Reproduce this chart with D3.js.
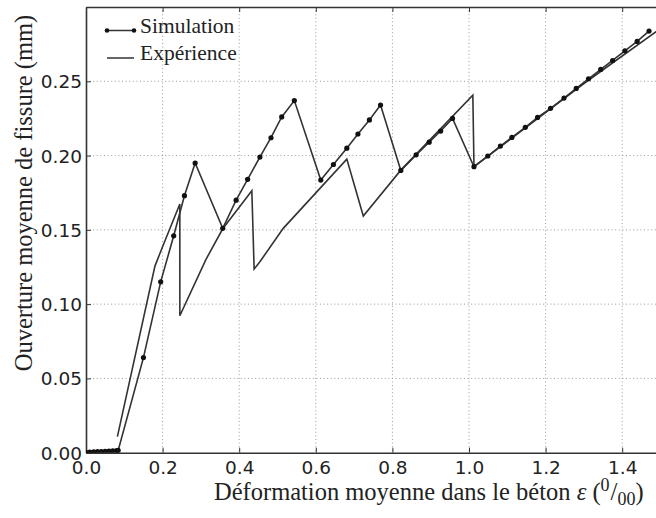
<!DOCTYPE html>
<html><head><meta charset="utf-8">
<script src="https://cdn.jsdelivr.net/npm/d3@7"></script>
<style>body{margin:0;background:#fff}svg{display:block}</style>
</head><body>
<svg id="c" width="656" height="518"></svg>
<script>
// ---- data ----
const simX = [0, 0.01, 0.02, 0.03, 0.04, 0.05, 0.06, 0.07, 0.08, 0.084, 0.150, 0.195, 0.229, 0.257, 0.285, 0.357, 0.392, 0.422, 0.454, 0.483, 0.511, 0.544, 0.613, 0.646, 0.681, 0.710, 0.740, 0.769, 0.822, 0.862, 0.896, 0.926, 0.957, 1.013, 1.049, 1.082, 1.112, 1.147, 1.179, 1.213, 1.248, 1.280, 1.312, 1.344, 1.375, 1.407, 1.439, 1.470];
const simY = [0.0002, 0.0004, 0.0005, 0.0007, 0.0008, 0.0009, 0.0010, 0.0012, 0.0014, 0.0015, 0.064, 0.115, 0.146, 0.173, 0.195, 0.151, 0.170, 0.184, 0.199, 0.212, 0.226, 0.237, 0.1835, 0.194, 0.205, 0.2145, 0.224, 0.234, 0.190, 0.2005, 0.209, 0.2165, 0.225, 0.1925, 0.1997, 0.2064, 0.2122, 0.219, 0.2257, 0.2318, 0.2387, 0.2452, 0.2517, 0.258, 0.264, 0.2705, 0.2768, 0.2838];
const expX = [0.082, 0.180, 0.202, 0.245, 0.245, 0.313, 0.357, 0.433, 0.439, 0.454, 0.515, 0.681, 0.724, 0.822, 1.010, 1.013, 1.30, 1.50];
const expY = [0.0108, 0.1256, 0.140, 0.1674, 0.0922, 0.130, 0.1507, 0.1763, 0.1236, 0.1285, 0.151, 0.1976, 0.1593, 0.1902, 0.2407, 0.1925, 0.2485, 0.2855];
const xTicks = [0.0, 0.2, 0.4, 0.6, 0.8, 1.0, 1.2, 1.4];
const yTicks = [0.00, 0.05, 0.10, 0.15, 0.20, 0.25];
const seriesNames = ["Simulation", "Expérience"];

// ---- layout ----
const L = 86, T = 7, R = 660.5, B = 452.7;
const svg = d3.select("#c");
const x = d3.scaleLinear().domain([0, 1.5]).range([L, R]);
const y = d3.scaleLinear().domain([0, 0.3]).range([B, T]);
const ink = "#333";

svg.append("clipPath").attr("id","clip").append("rect")
  .attr("x", L).attr("y", T).attr("width", R - L).attr("height", B - T);

// grid
const grid = svg.append("g").attr("stroke", "#9a9a9a").attr("stroke-width", 1).attr("stroke-dasharray", "1,2.6");
grid.selectAll(".gx").data(xTicks.slice(1)).enter().append("line")
  .attr("x1", d => x(d)).attr("x2", d => x(d)).attr("y1", T).attr("y2", B);
grid.selectAll(".gy").data(yTicks.slice(1)).enter().append("line")
  .attr("x1", L).attr("x2", R).attr("y1", d => y(d)).attr("y2", d => y(d));

// axes (ticks inside)
const fmtX = d3.format(".1f"), fmtY = d3.format(".2f");
const xAxis = svg.append("g").attr("transform", `translate(0,${B})`)
  .call(d3.axisBottom(x).tickValues(xTicks).tickFormat(fmtX).tickSizeInner(-5).tickSizeOuter(0).tickPadding(8));
const xTop = svg.append("g").attr("transform", `translate(0,${T})`)
  .call(d3.axisTop(x).tickValues(xTicks).tickFormat("").tickSizeInner(-5).tickSizeOuter(0));
const yAxis = svg.append("g").attr("transform", `translate(${L},0)`)
  .call(d3.axisLeft(y).tickValues(yTicks).tickFormat(fmtY).tickSizeInner(-5).tickSizeOuter(0).tickPadding(4));
[xAxis, xTop, yAxis].forEach(g => {
  g.select(".domain").attr("stroke", ink).attr("stroke-width", 1.6);
  g.selectAll(".tick line").attr("stroke", ink).attr("stroke-width", 1);
  g.selectAll("text").attr("font-family", "DejaVu Sans").attr("font-size", 18.5).attr("fill", "#222");
});
xAxis.selectAll("text").attr("dy", "0.71em");
yAxis.selectAll("text").attr("dy", "0.35em");

// lines
const line = d3.line().x(d => x(d[0])).y(d => y(d[1]));
const plot = svg.append("g").attr("clip-path", "url(#clip)");
const expData = expX.map((v, i) => [v, expY[i]]);
const simData = simX.map((v, i) => [v, simY[i]]);
plot.append("path").datum(expData).attr("d", line).attr("fill", "none").attr("stroke", ink).attr("stroke-width", 1.6);
plot.append("path").datum(simData).attr("d", line).attr("fill", "none").attr("stroke", ink).attr("stroke-width", 1.6);
plot.selectAll(".dot").data(simData).enter().append("circle")
  .attr("cx", d => x(d[0])).attr("cy", d => y(d[1])).attr("r", 2.6).attr("fill", "#111");

// legend
const lg = svg.append("g");
lg.append("line").attr("x1", 107).attr("x2", 134).attr("y1", 30.5).attr("y2", 30.5).attr("stroke", ink).attr("stroke-width", 1.5);
lg.selectAll(".ld").data([107, 134]).enter().append("circle").attr("cx", d => d).attr("cy", 30.5).attr("r", 2.3).attr("fill", "#111");
lg.append("line").attr("x1", 107).attr("x2", 134).attr("y1", 58).attr("y2", 58).attr("stroke", ink).attr("stroke-width", 1.5);
lg.selectAll(".lt").data(seriesNames).enter().append("text")
  .attr("x", 140).attr("y", (d, i) => 32.5 + i * 27.5)
  .attr("font-family", "Liberation Serif").attr("font-size", 21.5).attr("fill", "#222").text(d => d);

// axis labels
svg.append("text").attr("transform", "translate(32,193) rotate(-90)").attr("text-anchor", "middle")
  .attr("font-family", "Liberation Serif").attr("font-size", 24.5).attr("fill", "#222")
  .text("Ouverture moyenne de fissure (mm)");
const xl = svg.append("text").attr("x", 214).attr("y", 500)
  .attr("font-family", "Liberation Serif").attr("font-size", 24.5).attr("fill", "#222");
xl.append("tspan").text("Déformation moyenne dans le béton ");
xl.append("tspan").attr("font-style", "italic").text("ε");
xl.append("tspan").text(" (");
xl.append("tspan").attr("font-size", 18).attr("dy", -9).text("0");
xl.append("tspan").attr("dx", 1).attr("dy", 9).text("/");
xl.append("tspan").attr("font-size", 18).attr("dy", 5).text("00");
xl.append("tspan").attr("dy", -5).text(")");
</script>
</body></html>
